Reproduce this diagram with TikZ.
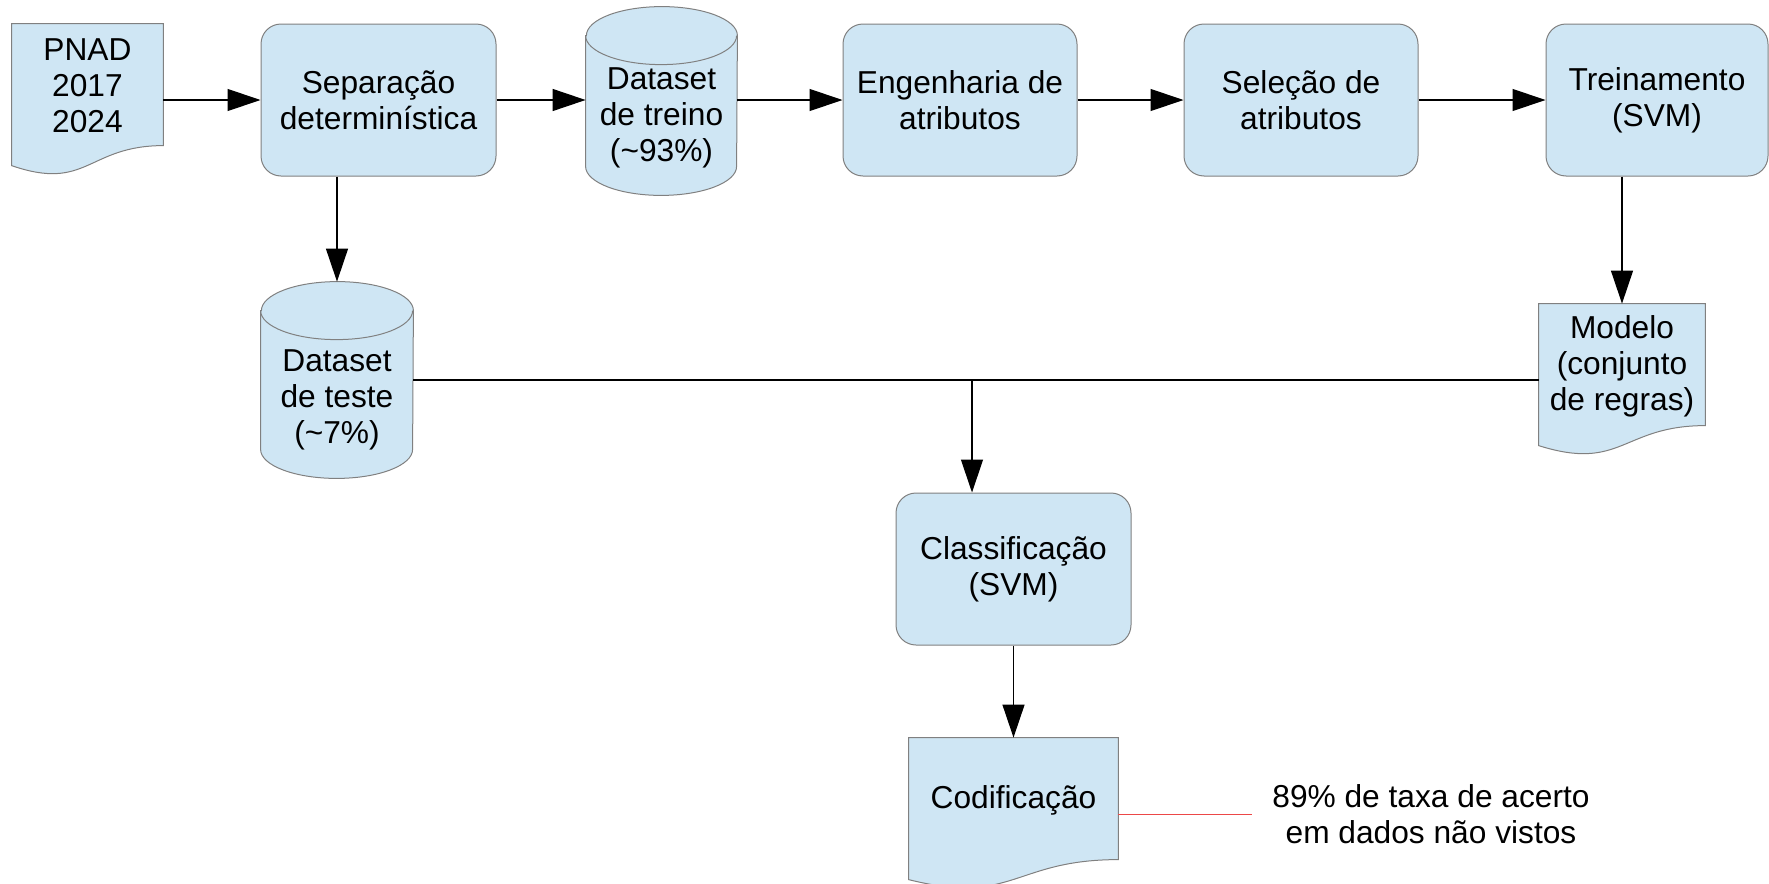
\documentclass[tikz,border=0pt]{standalone}
\usepackage{fontspec}
\setmainfont{Liberation Sans}
\usetikzlibrary{arrows.meta,calc,backgrounds}
\definecolor{boxblue}{RGB}{207,230,244}
\definecolor{edgegray}{RGB}{128,128,128}
\definecolor{notered}{RGB}{236,72,72}
\begin{document}
\begin{tikzpicture}[x=0.5pt,y=-0.5pt,
  txt/.style={font=\fontsize{15.85}{18}\selectfont, align=center},
  proc/.style={txt, draw=edgegray, fill=boxblue, line width=0.5pt, rounded corners=10pt, minimum height=76pt, inner sep=0pt,
    execute at begin node={\rule{0pt}{15.5pt}}},
  shell/.style={draw=none, fill=none, inner sep=0pt, minimum height=76pt},
  doctext/.style={txt, yshift=7pt, inner sep=0pt},
  shapeline/.style={draw=edgegray, fill=boxblue, line width=0.5pt},
  conn/.style={line width=0.6pt, -{Triangle[length=16.5pt,width=11pt]}},
  plainconn/.style={line width=0.6pt}]
\useasboundingbox (0,0) rectangle (1769,884);

% process boxes
\node[proc, minimum width=117.5pt] (sep) at (378.5,100) {Separação\\determinística};
\node[proc, minimum width=117pt] (eng) at (960,100) {Engenharia de\\atributos};
\node[proc, minimum width=117pt] (sel) at (1301,100) {Seleção de\\atributos};
\node[proc, minimum width=111pt] (train) at (1657,100) {Treinamento\\(SVM)};
\node[proc, minimum width=117.5pt] (classif) at (1013.5,569) {Classificação\\(SVM)};

% documents
\node[shell, minimum width=75.5pt, label={[doctext]center:{PNAD\\2017\\2024}}] (pnad) at (87.5,100) {};
\node[shell, minimum width=83pt, label={[doctext]center:{Modelo\\(conjunto\\de regras)}}] (modelo) at (1622,380) {};
\node[shell, minimum width=104.5pt, label={[doctext]center:{Codificação}}] (codif) at (1013.5,814) {};

% cylinders
\node[shell, minimum width=75.5pt, minimum height=94pt, label={[txt, inner sep=0pt, yshift=-8.4pt]center:{Dataset\\de treino\\(\textasciitilde93\%)}}] (trcyl) at (661.5,101) {};
\node[shell, minimum width=76pt, minimum height=98pt, label={[txt, inner sep=0pt, yshift=-10pt]center:{Dataset\\de teste\\(\textasciitilde7\%)}}] (test) at (337,380) {};

% annotation
\node[txt, anchor=west, inner xsep=10pt, inner ysep=0pt] (ann) at (1252,814) {89\% de taxa de acerto\\em dados não vistos};

\begin{scope}[on background layer]
\foreach \n in {pnad,modelo,codif} {
  \path[shapeline] (\n.north west) -- (\n.north east) -- ($(\n.north east)+(0,122)$)
    .. controls ($(\n.north)+(0,122)$) and ($(\n.north)+(0,168.3)$) .. ($(\n.north west)+(0,142)$) -- cycle;
}
\foreach \n/\rx in {trcyl/37.75pt, test/38pt} {
  \path[shapeline] ($(\n.north west)+(0,29)$) -- ($(\n.south west)+(0,-29)$)
    arc[start angle=180, end angle=360, x radius=\rx, y radius=14.5pt]
    -- ($(\n.north east)+(0,29)$)
    arc[start angle=0, end angle=180, x radius=\rx, y radius=14.5pt] -- cycle;
  \draw[edgegray, line width=0.5pt] ($(\n.north west)+(0,29)$)
    arc[start angle=180, end angle=360, x radius=\rx, y radius=14.5pt];
}
\end{scope}

% connectors
\draw[conn] (pnad.east) -- (sep.west);
\draw[conn] (sep.east) -- (sep.east -| trcyl.west);
\draw[conn] (trcyl.east |- eng.west) -- (eng.west);
\draw[conn] (eng.east) -- (sel.west);
\draw[conn] (sel.east) -- (train.west);
\draw[conn] (sep.south -| test.north) -- (test.north);
\draw[conn] (train.south -| modelo.north) -- (modelo.north);
\draw[plainconn] (test.east) -- (modelo.west);
\coordinate (j) at (972,380);
\draw[conn] (j) -- (j |- classif.north);
\draw[conn] (classif.south) -- (codif.north);
\draw[notered, line width=0.5pt] (codif.east) -- (ann.west);
\end{tikzpicture}
\end{document}
